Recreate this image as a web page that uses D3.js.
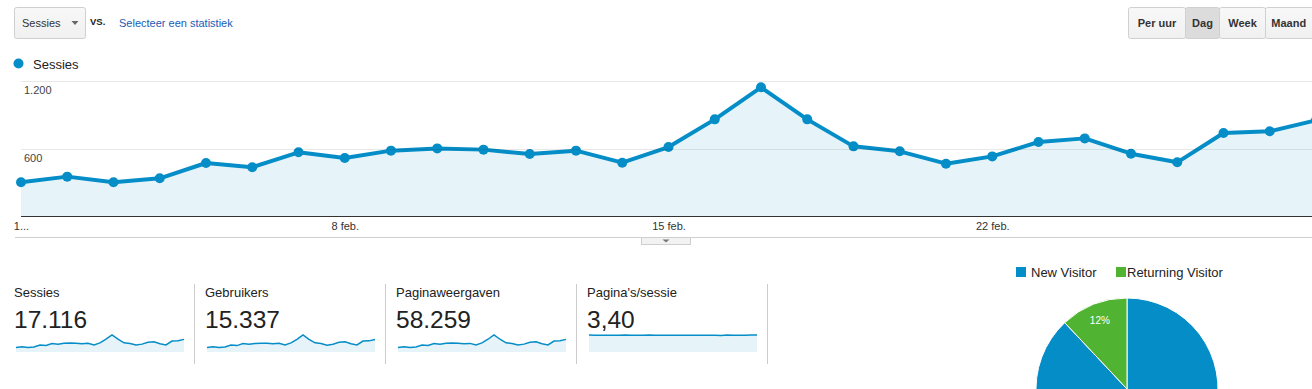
<!DOCTYPE html>
<html>
<head>
<meta charset="utf-8">
<script src="https://cdn.jsdelivr.net/npm/d3@7"></script>
<style>
  html, body { margin: 0; padding: 0; background: #fff; }
  svg { display: block; font-family: Arial, "Liberation Sans", sans-serif; }
</style>
</head>
<body>
<svg id="chart" width="1312" height="389"></svg>
<script>
// ---------- data ----------
const days = ["1 feb.","2 feb.","3 feb.","4 feb.","5 feb.","6 feb.","7 feb.","8 feb.","9 feb.","10 feb.",
  "11 feb.","12 feb.","13 feb.","14 feb.","15 feb.","16 feb.","17 feb.","18 feb.","19 feb.","20 feb.",
  "21 feb.","22 feb.","23 feb.","24 feb.","25 feb.","26 feb.","27 feb.","28 feb.","1 mrt."];
const sessions = [300,350,300,335,471,433,566,516,581,601,590,551,581,474,613,859,1144,859,619,575,465,530,658,690,554,477,738,753,850];
const users = [270,318,272,302,425,390,512,466,523,540,532,497,525,428,552,775,1035,772,556,518,418,476,592,620,498,430,663,678,766];
const pageviews = [1020,1190,1010,1140,1600,1470,1930,1750,1980,2040,2010,1870,1970,1610,2080,2920,3890,2920,2100,1960,1580,1800,2240,2350,1880,1620,2510,2560,2890];
const pagesPerSession = [3.44,3.40,3.37,3.40,3.38,3.40,3.42,3.40,3.39,3.41,3.42,3.40,3.38,3.40,3.39,3.40,3.39,3.38,3.38,3.37,3.37,3.37,3.36,3.44,3.40,3.39,3.40,3.44,3.44];
const yTicks = [600, 1200];
const yTickLabels = ["600", "1.200"];
const xTickDays = ["1 feb.", "8 feb.", "15 feb.", "22 feb."];
const xTickLabels = ["1...", "8 feb.", "15 feb.", "22 feb."];
const metricNames = ["Sessies", "Gebruikers", "Paginaweergaven", "Pagina's/sessie"];
const metricTotals = ["17.116", "15.337", "58.259", "3,40"];
const metricSeries = [sessions, users, pageviews, pagesPerSession];
const visitorTypes = ["New Visitor", "Returning Visitor"];
const visitorShares = [88, 12];
const periodButtons = ["Per uur", "Dag", "Week", "Maand"];

// ---------- setup ----------
const svg = d3.select("#chart");
const BLUE = "#058dc7", GREEN = "#50b432", FILL = "#e6f4f9";

const defs = svg.append("defs");
const g1 = defs.append("linearGradient").attr("id", "btn").attr("x1", 0).attr("y1", 0).attr("x2", 0).attr("y2", 1);
g1.append("stop").attr("offset", "0%").attr("stop-color", "#f8f8f8");
g1.append("stop").attr("offset", "100%").attr("stop-color", "#f0f0f0");
defs.append("clipPath").attr("id", "plotclip").append("rect").attr("x", 0).attr("y", 60).attr("width", 1312).attr("height", 170);

// ---------- top controls ----------
svg.append("rect").attr("x", 14.5).attr("y", 7.5).attr("width", 71).attr("height", 31).attr("rx", 2)
  .attr("fill", "url(#btn)").attr("stroke", "#cfcfcf");
svg.append("text").attr("x", 22).attr("y", 27).attr("font-size", 11).attr("fill", "#333").text("Sessies");
svg.append("path").attr("d", "M71.5,21 L78.5,21 L75,25 Z").attr("fill", "#666");
svg.append("text").attr("x", 90).attr("y", 25).attr("font-size", 9.5).attr("font-weight", "bold").attr("fill", "#222").text("VS.");
svg.append("text").attr("x", 119).attr("y", 27).attr("font-size", 11).attr("fill", "#1a5bb5").text("Selecteer een statistiek");

// period buttons
const btnEdges = [1128.5, 1185.5, 1219.5, 1265.5, 1314];
const btnG = svg.append("g");
periodButtons.forEach((b, i) => {
  const x0 = btnEdges[i], x1 = btnEdges[i + 1];
  btnG.append("rect").attr("x", x0).attr("y", 7.5).attr("width", x1 - x0).attr("height", 31)
    .attr("rx", 2).attr("fill", i === 1 ? "#dcdcdc" : "url(#btn)").attr("stroke", "#d0d0d0");
  btnG.append("text").attr("x", (x0 + x1) / 2 + (i === 3 ? -1 : 0)).attr("y", 27).attr("text-anchor", "middle")
    .attr("font-size", 11).attr("font-weight", "bold").attr("fill", "#333").text(b);
});

// legend
svg.append("circle").attr("cx", 18.5).attr("cy", 63.5).attr("r", 5).attr("fill", BLUE);
svg.append("text").attr("x", 33).attr("y", 69).attr("font-size", 13).attr("fill", "#222").text("Sessies");

// ---------- main chart ----------
const x = d3.scalePoint().domain(days).range([21, 21 + 28 * 46.25]);
const y = d3.scaleLinear().domain([0, 1200]).range([216, 81]);

const plot = svg.append("g").attr("clip-path", "url(#plotclip)");
plot.append("path").datum(sessions)
  .attr("d", d3.area().x((d, i) => x(days[i])).y0(y(0)).y1(d => y(d)))
  .attr("fill", FILL);

// gridlines
svg.append("g").selectAll("line").data(yTicks).join("line")
  .attr("x1", 21).attr("x2", 1312)
  .attr("y1", d => Math.round(y(d)) + 0.5).attr("y2", d => Math.round(y(d)) + 0.5)
  .attr("stroke", "#000").attr("stroke-opacity", 0.09);
svg.append("g").selectAll("text").data(yTicks).join("text")
  .attr("x", 24).attr("y", d => y(d) + 13).attr("font-size", 11).attr("fill", "#444")
  .text((d, i) => yTickLabels[i]);

plot.append("path").datum(sessions)
  .attr("d", d3.line().x((d, i) => x(days[i])).y(d => y(d)))
  .attr("fill", "none").attr("stroke", BLUE).attr("stroke-width", 4).attr("stroke-linejoin", "round");
plot.append("g").selectAll("circle").data(sessions).join("circle")
  .attr("cx", (d, i) => x(days[i])).attr("cy", d => y(d)).attr("r", 5).attr("fill", BLUE);

// x axis
const xAxis = d3.axisBottom(x).tickValues(xTickDays).tickSize(0).tickPadding(6)
  .tickFormat(d => xTickLabels[xTickDays.indexOf(d)]);
const ax = svg.append("g").attr("transform", "translate(0,216.5)").call(xAxis);
ax.select(".domain").remove();
ax.selectAll("text").attr("font-size", 11).attr("fill", "#333").attr("font-family", "Arial, 'Liberation Sans', sans-serif");
svg.append("line").attr("x1", 21).attr("x2", 1312).attr("y1", 216.5).attr("y2", 216.5).attr("stroke", "#333");

// bottom separator + handle
svg.append("line").attr("x1", 15).attr("x2", 1312).attr("y1", 237.5).attr("y2", 237.5).attr("stroke", "#cfcfcf");
svg.append("rect").attr("x", 641.5).attr("y", 237.5).attr("width", 49).attr("height", 7).attr("fill", "#f2f2f2").attr("stroke", "#cfcfcf");
svg.append("path").attr("d", "M662.5,239.5 L669.5,239.5 L666,242.5 Z").attr("fill", "#777");

// ---------- metric sparklines ----------
const panelX = [14, 205, 396, 587];
metricNames.forEach((name, k) => {
  const px = panelX[k];
  const g = svg.append("g");
  g.append("text").attr("x", px).attr("y", 297).attr("font-size", 13).attr("fill", "#222").text(name);
  g.append("text").attr("x", px).attr("y", 328).attr("font-size", 24.5).attr("fill", "#222").text(metricTotals[k]);
  const data = metricSeries[k];
  const sx = d3.scaleLinear().domain([0, data.length - 1]).range([px + 2, px + 170]);
  const sy = d3.scaleLinear().domain([0, d3.max(data)]).range([352, 335]);
  g.append("path").datum(data).attr("d", d3.area().x((d, i) => sx(i)).y0(352).y1(d => sy(d))).attr("fill", FILL);
  g.append("path").datum(data).attr("d", d3.line().x((d, i) => sx(i)).y(d => sy(d)))
    .attr("fill", "none").attr("stroke", BLUE).attr("stroke-width", 1.5);
  g.append("line").attr("x1", px + 180.5).attr("x2", px + 180.5).attr("y1", 284).attr("y2", 364).attr("stroke", "#ccc");
});

// ---------- pie ----------
const colors = [BLUE, GREEN];
const legX = [1016, 1116], legTX = [1031, 1127];
visitorTypes.forEach((t, i) => {
  svg.append("rect").attr("x", legX[i]).attr("y", 267).attr("width", 10).attr("height", 10).attr("fill", colors[i]);
  svg.append("text").attr("x", legTX[i]).attr("y", 277).attr("font-size", 13).attr("fill", "#222").text(t);
});
const pie = d3.pie().sort(null).value(d => d);
const arcs = pie(visitorShares);
const R = 91;
const arc = d3.arc().innerRadius(0).outerRadius(R);
const labelArc = d3.arc().innerRadius(R * 0.81).outerRadius(R * 0.81);
const pg = svg.append("g").attr("transform", "translate(1127,389)");
pg.selectAll("path").data(arcs).join("path").attr("d", arc)
  .attr("fill", (d, i) => colors[i]).attr("stroke", "#fff").attr("stroke-width", 1);
pg.append("text").datum(arcs[1]).attr("transform", d => `translate(${labelArc.centroid(d)})`)
  .attr("text-anchor", "middle").attr("dy", "0.35em").attr("font-size", 10).attr("fill", "#fff")
  .text(d => visitorShares[1] + "%");
</script>
</body>
</html>
